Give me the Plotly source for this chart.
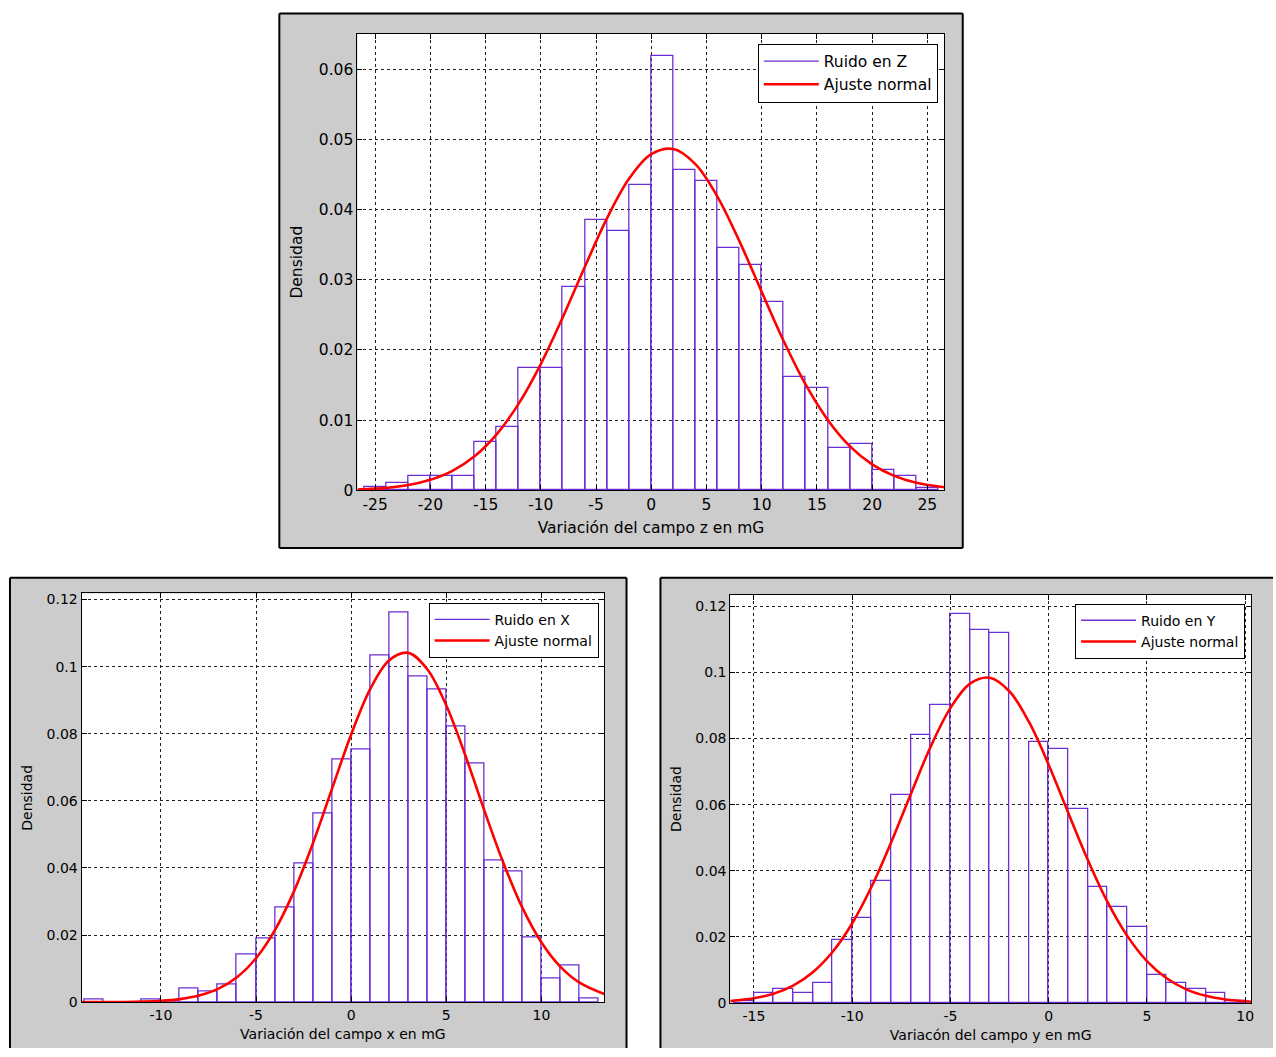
import plotly.graph_objects as go

W, H = 1276, 1057


def px(x):
    return x / W


def py(y):
    return 1 - y / H


PURPLE = "#6c2fd4"
RED = "#ff0000"
FONT = "DejaVu Sans"

# ---------------- Panel Z (top) ----------------
z_centers = [-25, -23, -21, -19, -17, -15, -13, -11, -9, -7, -5, -3, -1,
             1, 3, 5, 7, 9, 11, 13, 15, 17, 19, 21, 23, 25]
z_density = [0.0005, 0.0010, 0.0020, 0.0020, 0.0020, 0.0069, 0.0090, 0.0174,
             0.0174, 0.0290, 0.0385, 0.0370, 0.0435, 0.0619, 0.0456, 0.0440,
             0.0345, 0.0321, 0.0269, 0.0161, 0.0146, 0.0060, 0.0066, 0.0029,
             0.0020, 0.0003]
z_fit_x = [-26.6, -24, -22, -20, -18, -16, -14, -12, -10, -8, -6, -4, -2, 0,
           2, 4, 6, 8, 10, 12, 14, 16, 18, 20, 22, 24, 26.55]
z_fit_y = [0.00013, 0.00036, 0.00076, 0.00150, 0.00278, 0.00485, 0.00798,
           0.01235, 0.01799, 0.02468, 0.03188, 0.03878, 0.04441, 0.04788,
           0.04861, 0.04646, 0.04181, 0.03543, 0.02827, 0.02123, 0.01501,
           0.01000, 0.00627, 0.00370, 0.00206, 0.00108, 0.00044]
z_xticks = [-25, -20, -15, -10, -5, 0, 5, 10, 15, 20, 25]
z_xticklabels = ["-25", "-20", "-15", "-10", "-5", "0", "5", "10", "15", "20", "25"]
z_yticks = [0, 0.01, 0.02, 0.03, 0.04, 0.05, 0.06]
z_yticklabels = ["0", "0.01", "0.02", "0.03", "0.04", "0.05", "0.06"]

# ---------------- Panel X (bottom left) ----------------
x_centers = [-13.5, -12.5, -11.5, -10.5, -9.5, -8.5, -7.5, -6.5, -5.5, -4.5,
             -3.5, -2.5, -1.5, -0.5, 0.5, 1.5, 2.5, 3.5, 4.5, 5.5, 6.5, 7.5,
             8.5, 9.5, 10.5, 11.5, 12.5]
x_density = [0.0008, 0.0, 0.0, 0.0008, 0.0, 0.0041, 0.0032, 0.0052, 0.0141,
             0.0190, 0.0281, 0.0412, 0.0562, 0.0722, 0.0752, 0.1033, 0.1161,
             0.0972, 0.0933, 0.0823, 0.0712, 0.0421, 0.0391, 0.0192, 0.0071,
             0.0110, 0.0010]
x_fit_x = [-14.17, -13, -12, -11, -10, -9, -8, -7, -6, -5, -4, -3, -2, -1, 0,
           1, 2, 3, 4, 5, 6, 7, 8, 9, 10, 11, 12, 13.3]
x_fit_y = [0.00001, 0.00002, 0.00006, 0.00016, 0.00039, 0.00091, 0.00196,
           0.00395, 0.00744, 0.0131, 0.02155, 0.0331, 0.0475, 0.0637, 0.0798,
           0.0933, 0.1019, 0.1041, 0.0992, 0.0884, 0.0735, 0.0571, 0.0415,
           0.0281, 0.0178, 0.01053, 0.00582, 0.00243]
x_xticks = [-10, -5, 0, 5, 10]
x_xticklabels = ["-10", "-5", "0", "5", "10"]
x_yticks = [0, 0.02, 0.04, 0.06, 0.08, 0.1, 0.12]
x_yticklabels = ["0", "0.02", "0.04", "0.06", "0.08", "0.1", "0.12"]

# ---------------- Panel Y (bottom right) ----------------
y_centers = [-15.5, -14.5, -13.5, -12.5, -11.5, -10.5, -9.5, -8.5, -7.5, -6.5,
             -5.5, -4.5, -3.5, -2.5, -1.5, -0.5, 0.5, 1.5, 2.5, 3.5, 4.5, 5.5,
             6.5, 7.5, 8.5, 9.5]
y_density = [0.0006, 0.0030, 0.0041, 0.0030, 0.0060, 0.0190, 0.0258, 0.0370,
             0.0628, 0.0810, 0.0900, 0.1178, 0.1128, 0.1120, 0.0, 0.0790,
             0.0768, 0.0588, 0.0350, 0.0291, 0.0230, 0.0084, 0.0061, 0.0042,
             0.0031, 0.0005]
y_fit_x = [-16.2, -15, -14, -13, -12, -11, -10, -9, -8, -7, -6, -5, -4, -3,
           -2, -1, 0, 1, 2, 3, 4, 5, 6, 7, 8, 9, 10.3]
y_fit_y = [0.00057, 0.00141, 0.00281, 0.00527, 0.00929, 0.01541, 0.02405,
           0.0353, 0.0488, 0.0634, 0.0776, 0.0892, 0.0966, 0.0984, 0.0943,
           0.0850, 0.0721, 0.0575, 0.0432, 0.0305, 0.0203, 0.01268, 0.00746,
           0.00413, 0.00215, 0.00105, 0.00039]
y_xticks = [-15, -10, -5, 0, 5, 10]
y_xticklabels = ["-15", "-10", "-5", "0", "5", "10"]
y_yticks = [0, 0.02, 0.04, 0.06, 0.08, 0.1, 0.12]
y_yticklabels = ["0", "0.02", "0.04", "0.06", "0.08", "0.1", "0.12"]

# plot-area boxes in page pixels (left, top, right, bottom)
Z_BOX = (358.3, 32.3, 946.7, 493.5)
X_BOX = (81.7, 597.7, 605.7, 1010.7)
Y_BOX = (732.0, 599.3, 1254.0, 1011.5)

panels = [
    dict(xa="x", ya="y", leg="legend", centers=z_centers, dens=z_density,
         width=2, fx=z_fit_x, fy=z_fit_y, name="Ruido en Z"),
    dict(xa="x2", ya="y2", leg="legend2", centers=x_centers, dens=x_density,
         width=1, fx=x_fit_x, fy=x_fit_y, name="Ruido en X"),
    dict(xa="x3", ya="y3", leg="legend3", centers=y_centers, dens=y_density,
         width=1, fx=y_fit_x, fy=y_fit_y, name="Ruido en Y"),
]

fig = go.Figure()
for i, p in enumerate(panels):
    fig.add_trace(go.Bar(
        x=p["centers"], y=p["dens"], width=p["width"],
        marker=dict(color="rgba(0,0,0,0)", line=dict(color=PURPLE, width=1.3)),
        xaxis=p["xa"], yaxis=p["ya"], showlegend=False, hoverinfo="x+y"))
    fig.add_trace(go.Scatter(
        x=[None], y=[None], mode="lines", name=p["name"],
        line=dict(color=PURPLE, width=1.3), xaxis=p["xa"], yaxis=p["ya"],
        legend=p["leg"], legendgroup=f"h{i}"))
    fig.add_trace(go.Scatter(
        x=p["fx"], y=p["fy"], mode="lines", name="Ajuste normal",
        line=dict(color=RED, width=2.6, shape="spline"),
        xaxis=p["xa"], yaxis=p["ya"], legend=p["leg"], legendgroup=f"f{i}"))


def axis_common(size):
    return dict(
        showgrid=True, gridcolor="#202020", griddash="dot", gridwidth=1,
        showline=True, linecolor="black", linewidth=1, mirror="ticks",
        ticks="inside", ticklen=5, tickcolor="black", zeroline=False,
        tickfont=dict(family=FONT, size=size, color="black"),
        fixedrange=True,
    )


TOP_FS = 15.5
BOT_FS = 14


def xdom(b):
    return [px(b[0]), px(b[2])]


def ydom(b):
    return [py(b[3]), py(b[1])]


fig.update_layout(
    width=W, height=H, margin=dict(l=0, r=0, t=0, b=0),
    paper_bgcolor="white", plot_bgcolor="white",
    bargap=0, barmode="overlay",
    xaxis=dict(domain=xdom(Z_BOX), range=[-26.6, 26.55], anchor="y",
               tickmode="array", tickvals=z_xticks, ticktext=z_xticklabels,
               title=dict(text="Variación del campo z en mG", standoff=9,
                          font=dict(family=FONT, size=TOP_FS, color="black")),
               **axis_common(TOP_FS)),
    yaxis=dict(domain=ydom(Z_BOX), range=[0, 0.065], anchor="x",
               tickmode="array", tickvals=z_yticks, ticktext=z_yticklabels,
               title=dict(text="Densidad", standoff=12,
                          font=dict(family=FONT, size=TOP_FS, color="black")),
               **axis_common(TOP_FS)),
    xaxis2=dict(domain=xdom(X_BOX), range=[-14.17, 13.3], anchor="y2",
                tickmode="array", tickvals=x_xticks, ticktext=x_xticklabels,
                title=dict(text="Variación del campo x en mG", standoff=7,
                           font=dict(family=FONT, size=BOT_FS, color="black")),
                **axis_common(BOT_FS)),
    yaxis2=dict(domain=ydom(X_BOX), range=[0, 0.1218], anchor="x2",
                tickmode="array", tickvals=x_yticks, ticktext=x_yticklabels,
                title=dict(text="Densidad", standoff=10,
                           font=dict(family=FONT, size=BOT_FS, color="black")),
                **axis_common(BOT_FS)),
    xaxis3=dict(domain=xdom(Y_BOX), range=[-16.2, 10.3], anchor="y3",
                tickmode="array", tickvals=y_xticks, ticktext=y_xticklabels,
                title=dict(text="Variacón del campo y en mG", standoff=7,
                           font=dict(family=FONT, size=BOT_FS, color="black")),
                **axis_common(BOT_FS)),
    yaxis3=dict(domain=ydom(Y_BOX), range=[0, 0.1234], anchor="x3",
                tickmode="array", tickvals=y_yticks, ticktext=y_yticklabels,
                title=dict(text="Densidad", standoff=10,
                           font=dict(family=FONT, size=BOT_FS, color="black")),
                **axis_common(BOT_FS)),
)

legend_common = dict(xanchor="right", yanchor="top", bgcolor="white",
                     bordercolor="black", borderwidth=1, itemwidth=55,
                     traceorder="grouped", tracegroupgap=0)
fig.update_layout(
    legend=dict(x=px(940), y=py(42),
                font=dict(family=FONT, size=TOP_FS, color="black"),
                **legend_common),
    legend2=dict(x=px(600), y=py(607),
                 font=dict(family=FONT, size=BOT_FS, color="black"),
                 **legend_common),
    legend3=dict(x=px(1248), y=py(608),
                 font=dict(family=FONT, size=BOT_FS, color="black"),
                 **legend_common),
)

GRAY = "#cccccc"


def rect(x0, y0, x1, y1, fill):
    return dict(type="rect", xref="paper", yref="paper",
                x0=px(x0), x1=px(x1), y0=py(y1), y1=py(y0),
                fillcolor=fill, line=dict(width=0), layer="below")


def seg(x0, y0, x1, y1, w=2):
    return dict(type="line", xref="paper", yref="paper",
                x0=px(x0), x1=px(x1), y0=py(y0), y1=py(y1),
                line=dict(color="black", width=w), layer="below")


BOTTOM = H
shapes = [
    # gray figure panels (kept within the page)
    rect(280, 11.7, 965, 551.7, GRAY),
    rect(10, 581.7, 628, BOTTOM, GRAY),
    rect(662, 581.7, 1276, BOTTOM, GRAY),
    # panel borders
    seg(280, 11.7, 965, 11.7), seg(280, 551.7, 965, 551.7),
    seg(280, 11.7, 280, 551.7), seg(965, 11.7, 965, 551.7),
    seg(10, 581.7, 628, 581.7), seg(10, 581.7, 10, BOTTOM),
    seg(628, 581.7, 628, BOTTOM),
    seg(662, 581.7, 1276, 581.7), seg(662, 581.7, 662, BOTTOM),
    # white plot areas
    rect(*Z_BOX, "white"),
    rect(*X_BOX, "white"),
    rect(*Y_BOX, "white"),
]
fig.update_layout(shapes=shapes)

fig.write_html("out.html")
